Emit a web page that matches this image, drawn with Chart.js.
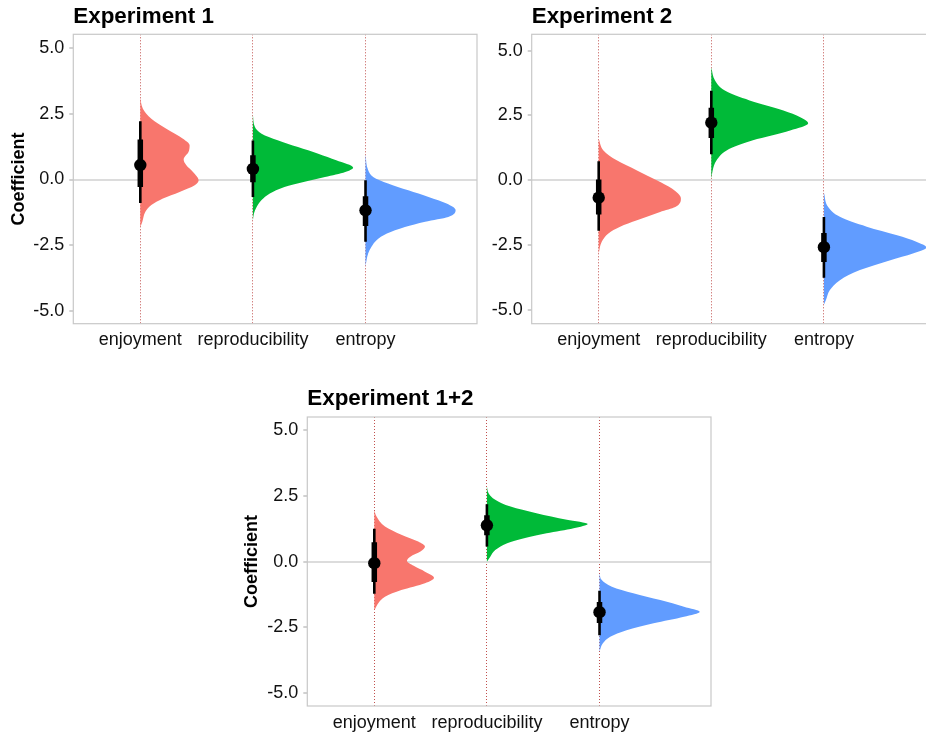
<!DOCTYPE html>
<html>
<head>
<meta charset="utf-8">
<script src="https://cdn.jsdelivr.net/npm/chart.js@4.4.1/dist/chart.umd.min.js"></script>
<style>
html,body{margin:0;padding:0;background:#fff;overflow:hidden;width:926px;height:737px;}
canvas{position:absolute;}
</style>
</head>
<body>
<canvas id="c1" width="486" height="360" style="left:0px;top:0px"></canvas>
<canvas id="c2" width="480" height="360" style="left:470px;top:0px"></canvas>
<canvas id="c3" width="486" height="357" style="left:234px;top:380px"></canvas>
<script>
// ---------- data ----------
const categories = ['enjoyment', 'reproducibility', 'entropy'];
const categoryPositions = [1, 2, 3];
const yTicks = [-5, -2.5, 0, 2.5, 5];

// densities: [coefficient, half-violin width in category units]
const exp1Enjoyment = [[3.1,0],[2.69,0.023],[2.31,0.098],[1.93,0.231],[1.55,0.379],[1.30,0.438],[1.05,0.429],[0.76,0.385],[0.54,0.409],[0.29,0.468],[-0.03,0.518],[-0.22,0.483],[-0.47,0.349],[-0.72,0.201],[-0.97,0.098],[-1.23,0.044],[-1.6,0.018],[-1.8,0]];
const exp1Reproducibility = [[2.45,0],[1.99,0.018],[1.74,0.077],[1.49,0.22],[1.23,0.40],[0.98,0.58],[0.73,0.74],[0.45,0.89],[0.29,0.82],[0.10,0.64],[-0.09,0.45],[-0.28,0.28],[-0.53,0.15],[-0.78,0.077],[-1.04,0.033],[-1.29,0.009],[-1.55,0]];
const exp1Entropy = [[0.95,0],[0.35,0.024],[0.10,0.068],[-0.15,0.20],[-0.41,0.38],[-0.66,0.56],[-0.91,0.72],[-1.16,0.80],[-1.42,0.735],[-1.6,0.53],[-1.8,0.35],[-2.05,0.19],[-2.30,0.098],[-2.55,0.053],[-2.80,0.024],[-3.06,0.009],[-3.3,0]];

const exp2Enjoyment = [[1.6,0],[1.15,0.042],[0.77,0.16],[0.38,0.34],[0,0.515],[-0.32,0.65],[-0.70,0.73],[-1.03,0.68],[-1.22,0.545],[-1.54,0.34],[-1.79,0.19],[-2.05,0.086],[-2.37,0.027],[-2.82,0]];
const exp2Reproducibility = [[4.35,0],[3.85,0.033],[3.46,0.12],[3.08,0.34],[2.69,0.64],[2.43,0.79],[2.20,0.86],[1.92,0.70],[1.54,0.37],[1.15,0.136],[0.77,0.047],[0.38,0.012],[0.06,0]];
const exp2Entropy = [[-0.48,0],[-1.03,0.038],[-1.41,0.142],[-1.79,0.38],[-2.12,0.65],[-2.37,0.82],[-2.59,0.91],[-2.82,0.79],[-3.08,0.59],[-3.46,0.32],[-3.85,0.142],[-4.23,0.053],[-4.62,0.018],[-4.8,0]];

const exp12Enjoyment = [[1.95,0],[1.71,0.02],[1.33,0.095],[1.02,0.24],[0.76,0.39],[0.57,0.45],[0.38,0.41],[0.19,0.32],[0.03,0.29],[-0.16,0.35],[-0.38,0.45],[-0.61,0.53],[-0.82,0.45],[-1.08,0.24],[-1.33,0.095],[-1.55,0.04],[-1.85,0]];
const exp12Reproducibility = [[2.85,0],[2.60,0.015],[2.35,0.074],[2.09,0.21],[1.84,0.44],[1.59,0.71],[1.43,0.895],[1.27,0.77],[1.08,0.53],[0.89,0.33],[0.70,0.18],[0.44,0.074],[0.19,0.03],[0,0]];
const exp12Entropy = [[-0.44,0],[-0.70,0.02],[-0.95,0.11],[-1.20,0.30],[-1.46,0.54],[-1.71,0.75],[-1.90,0.89],[-2.09,0.75],[-2.34,0.48],[-2.60,0.24],[-2.85,0.095],[-3.10,0.03],[-3.42,0]];

// point estimates and intervals (66% thick, 95% thin)
const exp1Point = [0.55, 0.40, -1.17];
const exp1Lo66 = [-0.28, -0.10, -1.76];
const exp1Hi66 = [1.52, 0.92, -0.63];
const exp1Lo95 = [-0.89, -0.66, -2.36];
const exp1Hi95 = [2.21, 1.48, -0.03];

const exp2Point = [-0.67, 2.22, -2.58];
const exp2Lo66 = [-1.32, 1.63, -3.15];
const exp2Hi66 = [0.03, 2.80, -2.03];
const exp2Lo95 = [-1.95, 1.00, -3.76];
const exp2Hi95 = [0.73, 3.45, -1.42];

const exp12Point = [-0.06, 1.38, -1.92];
const exp12Lo66 = [-0.77, 1.00, -2.33];
const exp12Hi66 = [0.74, 1.76, -1.53];
const exp12Lo95 = [-1.22, 0.57, -2.79];
const exp12Hi95 = [1.25, 2.18, -1.11];

// ---------- style ----------
const FONT = "'Liberation Sans', Arial, Helvetica, sans-serif";
Chart.defaults.font.family = FONT;
const fillColors = ['#F8766D', '#00BA38', '#619CFF'];
const textColor = '#111111';

const panelBorder = {
  id: 'panelBorder',
  afterDatasetsDraw(chart) {
    const {ctx, chartArea: a} = chart;
    ctx.save();
    ctx.strokeStyle = '#c8c8c8';
    ctx.lineWidth = 1.2;
    ctx.strokeRect(a.left, a.top, a.right - a.left, a.bottom - a.top);
    ctx.restore();
  }
};

function makePanel(id, p) {
  const ds = [];
  p.dens.forEach((d, i) => {
    const cx = categoryPositions[i];
    ds.push({
      data: d.map(r => ({x: cx + r[1], y: r[0]})),
      borderWidth: 0,
      backgroundColor: fillColors[i],
      fill: {value: cx},
      pointRadius: 0,
      cubicInterpolationMode: 'monotone',
      order: 3
    });
  });
  categoryPositions.forEach((cx, i) => {
    ds.push({data: [{x: cx, y: p.lo95[i]}, {x: cx, y: p.hi95[i]}], borderColor: '#000', borderWidth: 2.6, pointRadius: 0, fill: false, order: 2});
    ds.push({data: [{x: cx, y: p.lo66[i]}, {x: cx, y: p.hi66[i]}], borderColor: '#000', borderWidth: 5.5, pointRadius: 0, fill: false, order: 1});
  });
  ds.push({
    data: categoryPositions.map((cx, i) => ({x: cx, y: p.point[i]})),
    showLine: false, pointRadius: 6.2, pointBackgroundColor: '#000', pointBorderWidth: 0, order: 0
  });

  return new Chart(document.getElementById(id), {
    type: 'line',
    data: {datasets: ds},
    options: {
      indexAxis: 'y',
      responsive: false,
      animation: false,
      devicePixelRatio: 1,
      events: [],
      layout: {padding: {left: p.padLeft, right: p.padRight, top: 0, bottom: 0}},
      plugins: {
        legend: {display: false},
        tooltip: {enabled: false},
        title: {
          display: true, text: p.title, align: 'start', fullSize: false,
          color: '#000', font: {size: 22.4, weight: 'bold', family: FONT},
          padding: {top: p.titleTop, bottom: p.titleBottom}
        }
      },
      scales: {
        x: {
          type: 'linear', position: 'bottom', min: 0.405, max: 3.99,
          afterBuildTicks: s => { s.ticks = categoryPositions.map(v => ({value: v})); },
          afterFit: s => { s.height = p.xAxisHeight; s.paddingLeft = 0; s.paddingRight = 0; },
          ticks: {callback: (v, i) => categories[i], color: textColor, font: {size: 18}, padding: 6, maxRotation: 0, autoSkip: false},
          grid: {color: '#c0504d', lineWidth: 1, drawTicks: false},
          border: {display: false, dash: [1, 2]}
        },
        y: {
          type: 'linear', position: 'left', min: p.yMin, max: p.yMax,
          afterBuildTicks: s => { s.ticks = yTicks.map(v => ({value: v})); },
          afterFit: s => { s.width = p.yAxisWidth; s.paddingTop = 0; s.paddingBottom = 0; },
          ticks: {callback: v => Number(v).toFixed(1), color: textColor, font: {size: 18}, padding: 5},
          grid: {
            color: c => (c.tick && c.tick.value === 0) ? '#dcdcdc' : 'rgba(0,0,0,0)',
            lineWidth: 2, tickColor: '#b3b3b3', tickLength: 4, tickWidth: 1.2
          },
          border: {display: false},
          title: {display: p.showYTitle, text: 'Coefficient', color: '#000', font: {size: 18, weight: 'bold'}, padding: 0}
        }
      }
    },
    plugins: [panelBorder]
  });
}

makePanel('c1', {
  title: 'Experiment 1', showYTitle: true,
  dens: [exp1Enjoyment, exp1Reproducibility, exp1Entropy],
  point: exp1Point, lo66: exp1Lo66, hi66: exp1Hi66, lo95: exp1Lo95, hi95: exp1Hi95,
  yMin: -5.47, yMax: 5.51,
  padLeft: 8, padRight: 9, yAxisWidth: 65.3, xAxisHeight: 36.3, titleTop: 3, titleBottom: 4.42
});
makePanel('c2', {
  title: 'Experiment 2', showYTitle: false,
  dens: [exp2Enjoyment, exp2Reproducibility, exp2Entropy],
  point: exp2Point, lo66: exp2Lo66, hi66: exp2Hi66, lo95: exp2Lo95, hi95: exp2Hi95,
  yMin: -5.53, yMax: 5.63,
  padLeft: 0, padRight: 14.6, yAxisWidth: 61.7, xAxisHeight: 36.3, titleTop: 3, titleBottom: 4.42
});
makePanel('c3', {
  title: 'Experiment 1+2', showYTitle: true,
  dens: [exp12Enjoyment, exp12Reproducibility, exp12Entropy],
  point: exp12Point, lo66: exp12Lo66, hi66: exp12Hi66, lo95: exp12Lo95, hi95: exp12Hi95,
  yMin: -5.48, yMax: 5.49,
  padLeft: 7.3, padRight: 9, yAxisWidth: 66, xAxisHeight: 31, titleTop: 5.5, titleBottom: 4.62
});
</script>
</body>
</html>
